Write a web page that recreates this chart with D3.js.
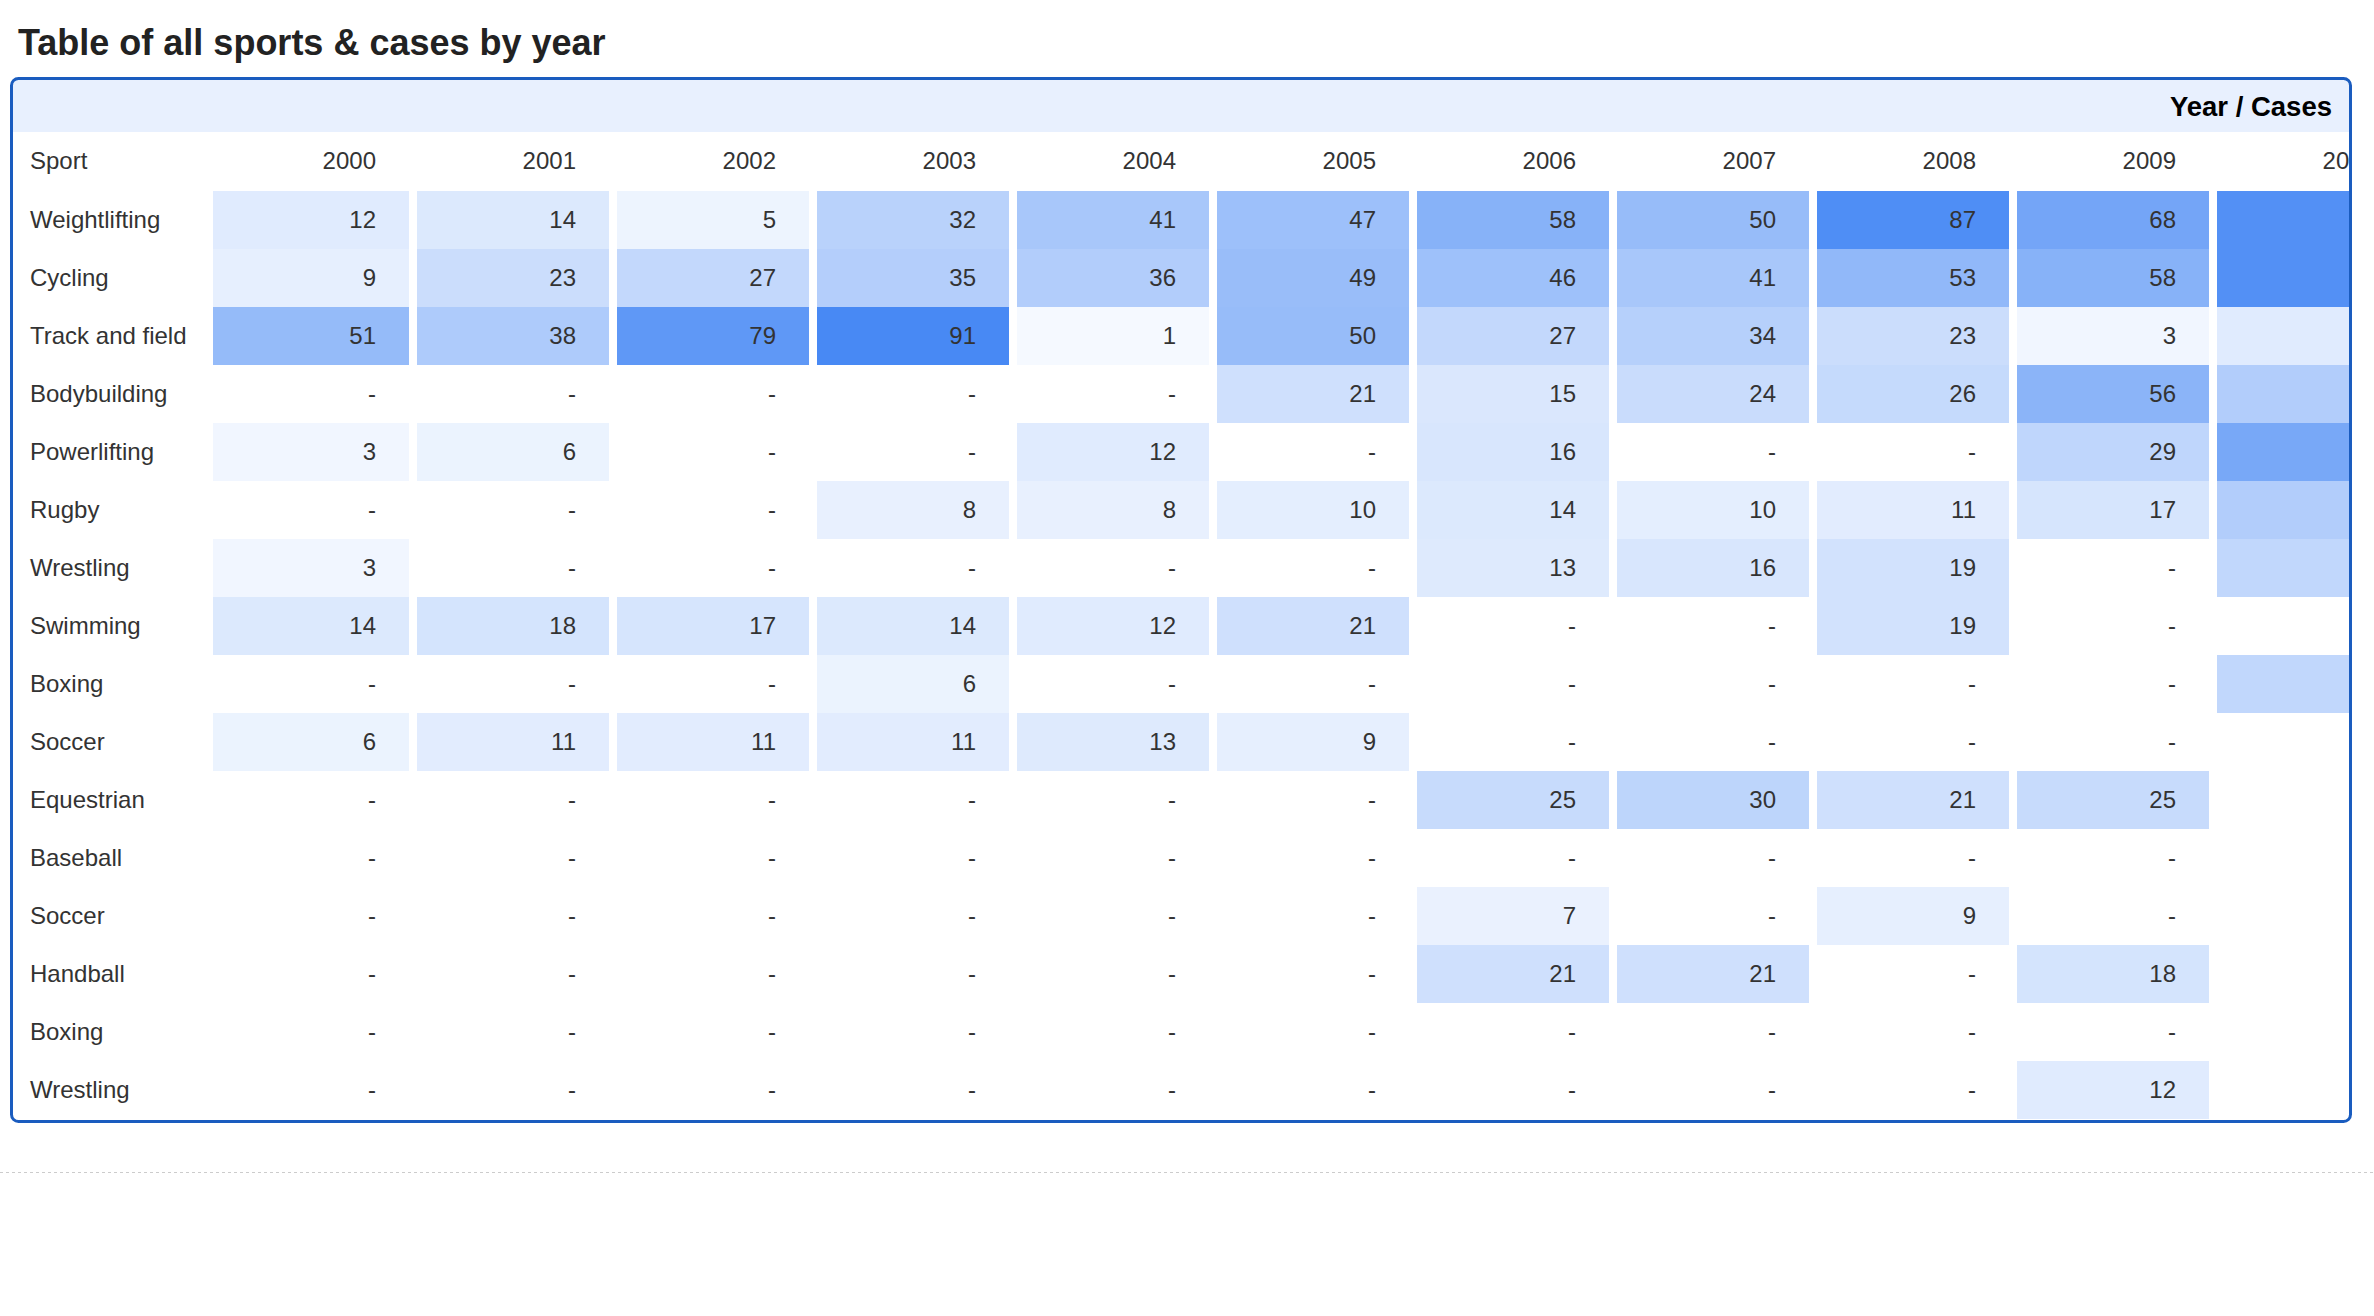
<!DOCTYPE html>
<html>
<head>
<meta charset="utf-8">
<script src="https://cdn.jsdelivr.net/npm/d3@7"></script>
<style>
  body { margin: 0; background: #fff; }
  svg { display: block; font-family: "Liberation Sans", Arial, sans-serif; }
</style>
</head>
<body>
<svg></svg>
<script>
// Data read from the table. null = "-" (no cases)
const years = ["2000", "2001", "2002", "2003", "2004", "2005", "2006", "2007", "2008", "2009", "2010"];
const sports = ["Weightlifting", "Cycling", "Track and field", "Bodybuilding", "Powerlifting", "Rugby",
  "Wrestling", "Swimming", "Boxing", "Soccer", "Equestrian", "Baseball", "Soccer", "Handball", "Boxing", "Wrestling"];

// one array per row, one value per year (2010 is cut off in the picture, estimated from colour)
const weightlifting = [12, 14, 5, 32, 41, 47, 58, 50, 87, 68, 85];
const cycling = [9, 23, 27, 35, 36, 49, 46, 41, 53, 58, 85];
const trackAndField = [51, 38, 79, 91, 1, 50, 27, 34, 23, 3, 12];
const bodybuilding = [null, null, null, null, null, 21, 15, 24, 26, 56, 36];
const powerlifting = [3, 6, null, null, 12, null, 16, null, null, 29, 66];
const rugby = [null, null, null, 8, 8, 10, 14, 10, 11, 17, 36];
const wrestling = [3, null, null, null, null, null, 13, 16, 19, null, 28];
const swimming = [14, 18, 17, 14, 12, 21, null, null, 19, null, null];
const boxing = [null, null, null, 6, null, null, null, null, null, null, 28];
const soccer = [6, 11, 11, 11, 13, 9, null, null, null, null, null];
const equestrian = [null, null, null, null, null, null, 25, 30, 21, 25, null];
const baseball = [null, null, null, null, null, null, null, null, null, null, null];
const soccer2 = [null, null, null, null, null, null, 7, null, 9, null, null];
const handball = [null, null, null, null, null, null, 21, 21, null, 18, null];
const boxing2 = [null, null, null, null, null, null, null, null, null, null, null];
const wrestling2 = [null, null, null, null, null, null, null, null, null, 12, null];

const rows = [weightlifting, cycling, trackAndField, bodybuilding, powerlifting, rugby, wrestling,
  swimming, boxing, soccer, equestrian, baseball, soccer2, handball, boxing2, wrestling2];

// Build flat cell list
const cells = [];
rows.forEach((vals, r) => {
  vals.forEach((v, c) => cells.push({ row: r, year: years[c], value: v }));
});

const width = 2374;
const height = 1316;
const box = { left: 10, top: 77, right: 2352, bottom: 1123, stroke: 3 };

const svg = d3.select("svg")
  .attr("width", width)
  .attr("height", height);

// Title
svg.append("text")
  .attr("x", 18)
  .attr("y", 55)
  .attr("font-size", 36)
  .attr("font-weight", "bold")
  .attr("fill", "#222")
  .text("Table of all sports & cases by year");

// Scales
const x = d3.scaleBand()
  .domain(years)
  .range([213, 213 + 200 * years.length]);

const y = d3.scaleBand()
  .domain(d3.range(sports.length))
  .range([191, 191 + 58 * sports.length]);

const color = d3.scaleLinear()
  .domain([0, 94])
  .range(["#f7faff", "#4285f4"]);

// Clip so the last column is cut at the box edge like the original
svg.append("clipPath")
  .attr("id", "inner")
  .append("rect")
  .attr("x", box.left + box.stroke)
  .attr("y", box.top + box.stroke)
  .attr("width", box.right - box.left - 2 * box.stroke)
  .attr("height", box.bottom - box.top - 2 * box.stroke)
  .attr("rx", 5);

const g = svg.append("g").attr("clip-path", "url(#inner)");

// Header band
g.append("rect")
  .attr("x", box.left)
  .attr("y", box.top)
  .attr("width", box.right - box.left)
  .attr("height", 132 - box.top)
  .attr("fill", "#e8f0fe");

g.append("text")
  .attr("x", 2332)
  .attr("y", 116)
  .attr("text-anchor", "end")
  .attr("font-size", 27.5)
  .attr("font-weight", "bold")
  .attr("fill", "#000")
  .text("Year / Cases");

// Column headers
g.append("text")
  .attr("x", 30)
  .attr("y", 169)
  .attr("font-size", 24)
  .attr("fill", "#333")
  .text("Sport");

g.selectAll(".year")
  .data(years)
  .join("text")
  .attr("class", "year")
  .attr("x", d => x(d) + x.bandwidth() - 37)
  .attr("y", 169)
  .attr("text-anchor", "end")
  .attr("font-size", 24)
  .attr("fill", "#333")
  .text(d => d);

// Sport labels
g.selectAll(".sport")
  .data(sports)
  .join("text")
  .attr("class", "sport")
  .attr("x", 30)
  .attr("y", (d, i) => y(i) + y.bandwidth() / 2 + 7.5)
  .attr("font-size", 24)
  .attr("fill", "#333")
  .text(d => d);

// Coloured cells (only where there are cases); first column has no left gap
g.selectAll(".cell")
  .data(cells.filter(d => d.value !== null))
  .join("rect")
  .attr("class", "cell")
  .attr("x", d => x(d.year) + (d.year === years[0] ? 0 : 4))
  .attr("y", d => y(d.row))
  .attr("width", d => x.bandwidth() - (d.year === years[0] ? 4 : 8))
  .attr("height", y.bandwidth())
  .attr("fill", d => color(d.value));

// Cell values
g.selectAll(".val")
  .data(cells)
  .join("text")
  .attr("class", "val")
  .attr("x", d => x(d.year) + x.bandwidth() - 37)
  .attr("y", d => y(d.row) + y.bandwidth() / 2 + 7.5)
  .attr("text-anchor", "end")
  .attr("font-size", 24)
  .attr("fill", "#333")
  .text(d => d.value === null ? "-" : d.value);

// Box border
svg.append("rect")
  .attr("x", box.left + box.stroke / 2)
  .attr("y", box.top + box.stroke / 2)
  .attr("width", box.right - box.left - box.stroke)
  .attr("height", box.bottom - box.top - box.stroke)
  .attr("rx", 7)
  .attr("fill", "none")
  .attr("stroke", "#1a5cbf")
  .attr("stroke-width", box.stroke);

// Dashed divider under the table
svg.append("line")
  .attr("x1", 0)
  .attr("x2", width)
  .attr("y1", 1172.5)
  .attr("y2", 1172.5)
  .attr("stroke", "#ccc")
  .attr("stroke-dasharray", "3,3");
</script>
</body>
</html>
